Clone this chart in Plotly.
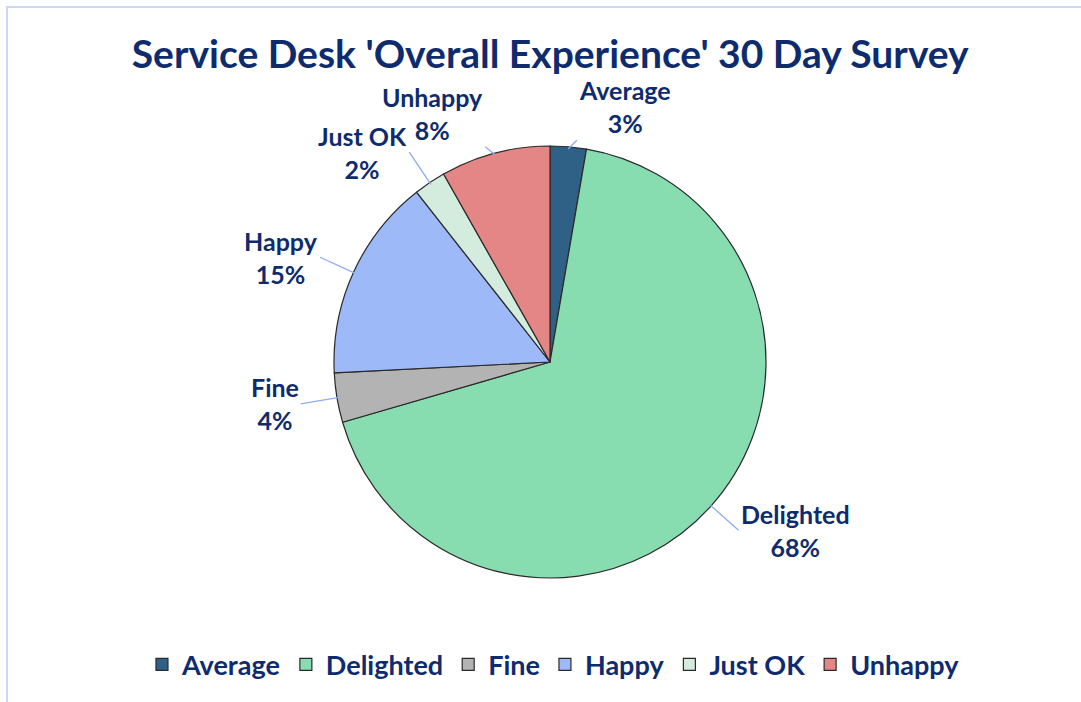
import math
import plotly.graph_objects as go

categories = ["Average", "Delighted", "Fine", "Happy", "Just OK", "Unhappy"]
values = [2.7, 67.8, 3.7, 15.2, 2.4, 8.2]
colors = ["#2F6187", "#88DDB0", "#B3B3B3", "#9DB9F7", "#D3ECDD", "#E58686"]
title_text = "Service Desk 'Overall Experience' 30 Day Survey"

W, H = 1081, 702
NAVY = "#0E2B6E"
FONT = "Lato, 'Open Sans', sans-serif"

# pie geometry (pixels)
cx, cy, r = 550, 362, 216
dom_x = [(cx - r) / W, (cx + r) / W]
dom_y = [1 - (cy + r) / H, 1 - (cy - r) / H]

fig = go.Figure(go.Pie(
    labels=categories, values=values, sort=False, direction="clockwise",
    rotation=0, marker=dict(colors=colors, line=dict(color="#2A2A2A", width=1.2)),
    textinfo="none", hoverinfo="label+percent",
    domain=dict(x=dom_x, y=dom_y), showlegend=True,
))

total = sum(values)
annotations = []
cum = 0.0
for lab, v in zip(categories, values):
    mid = (cum + v / 2) / total * 2 * math.pi
    cum += v
    sx, sy = math.sin(mid), math.cos(mid)
    tipx = cx + r * 0.99 * sx
    tipy = cy - r * 0.99 * sy
    xa = "left" if sx > 0 else "right"
    near_top = abs(sx) < 0.35
    if near_top:
        k = 1.03
        ya = "bottom" if sy > 0 else "top"
    else:
        k = 1.17
        ya = "middle"
    tx = cx + r * k * sx + ((8 if sx > 0 else -8) if near_top else 0)
    ty = cy - r * k * sy
    annotations.append(dict(
        x=tipx / W, y=1 - tipy / H, xref="paper", yref="paper",
        text=f"<b>{lab}<br>{round(v / total * 100)}%</b>",
        showarrow=True, arrowhead=0, arrowwidth=1.3, arrowcolor="#8DACEF",
        ax=tx - tipx, ay=ty - tipy, standoff=0,
        xanchor=xa, yanchor=ya,
        font=dict(family=FONT, size=25, color=NAVY), align="center",
    ))

fig.update_layout(
    width=W, height=H,
    margin=dict(l=0, r=0, t=0, b=0),
    paper_bgcolor="white", plot_bgcolor="white",
    title=dict(text=f"<b>{title_text}</b>", x=0.509, xanchor="center", y=0.922, yanchor="middle",
               font=dict(family=FONT, size=39, color=NAVY)),
    legend=dict(orientation="h", x=0.512, xanchor="center", y=0.053, yanchor="middle",
                font=dict(family=FONT, size=27, color=NAVY, weight="bold"), itemwidth=30,
                traceorder="normal"),
    annotations=annotations,
    shapes=[dict(type="rect", xref="paper", yref="paper",
                 x0=7 / W, x1=1.05, y0=-0.05, y1=1 - 7 / H,
                 line=dict(color="#C9D8F5", width=2))],
)
fig.write_html("out.html", config={"displayModeBar": False},
               post_script="document.body.style.margin='0';document.body.style.overflow='hidden';")
